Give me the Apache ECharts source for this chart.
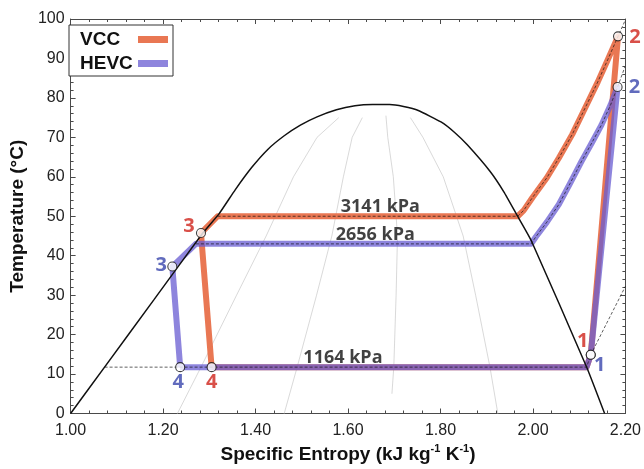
<!DOCTYPE html>
<html>
<head>
<meta charset="utf-8">
<script src="https://cdn.jsdelivr.net/npm/echarts@6/dist/echarts.min.js"></script>
<style>
  html, body { margin: 0; padding: 0; background: #fff; }
  #chart { width: 644px; height: 469px; }
</style>
</head>
<body>
<div id="chart"></div>
<script>
// Saturation dome of the refrigerant: specific entropy (kJ/kg K) vs temperature (°C)
const domeS = [1.000, 1.0735, 1.180, 1.286, 1.321, 1.356, 1.392, 1.427, 1.462, 1.497, 1.533, 1.575, 1.615, 1.653, 1.690, 1.720, 1.752, 1.801, 1.830, 1.858, 1.907, 1.937, 1.964, 1.996, 2.116, 2.155];
const domeT = [0, 11.75, 28.8, 45.75, 50.6, 56.7, 62.4, 67.0, 70.4, 73.1, 75.2, 77.0, 78.0, 78.3, 78.3, 77.8, 76.8, 73.9, 71.3, 68.1, 61.4, 56.2, 50.6, 43.9, 11.8, 0];

// Constant-quality lines inside the dome (x = 0.2, 0.4, 0.6, 0.8)
const quality20 = [[1.231, 0], [1.282, 11.75], [1.359, 30], [1.423, 45], [1.482, 60], [1.533, 70], [1.580, 75]];
const quality40 = [[1.462, 0], [1.490, 11.75], [1.532, 30], [1.565, 45], [1.590, 60], [1.609, 70], [1.631, 75]];
const quality60 = [[1.695, 5], [1.699, 11.75], [1.704, 30], [1.707, 45], [1.698, 60], [1.686, 70], [1.682, 75.5]];
const quality80 = [[1.924, 0], [1.907, 11.75], [1.876, 30], [1.849, 45], [1.806, 60], [1.762, 70], [1.735, 75]];

// Cycle state points [s, T, state number]
const vccStates = [[2.125, 14.9, '1'], [2.184, 95.6, '2'], [1.282, 45.75, '3'], [1.305, 11.75, '4']];
const hevcStates = [[2.125, 14.9, '1'], [2.183, 82.75, '2'], [1.220, 37.25, '3'], [1.237, 11.75, '4']];

// Evaporator exit (saturated vapour at 1164 kPa)
const evapEnd = [2.116, 11.75];

// Discharge / condensation paths from state 2 towards state 3
const vccHighSide = [[2.162, 89.75], [2.140, 84.0], [2.112, 77.25], [2.085, 70.75], [2.056, 64.75], [2.030, 59.75], [1.999, 54.75], [1.980, 51.5], [1.967, 50.0], [1.318, 50.0]];
const hevcHighSide = [[2.168, 78.25], [2.148, 73.1], [2.128, 68.75], [2.105, 63.9], [2.080, 58.25], [2.056, 53.0], [2.030, 48.5], [2.006, 44.75], [1.996, 43.0], [1.271, 43.0]];

// Isobars (dashed), kPa
const isobar3141 = [[1.318, 50.0], ...vccHighSide.slice(0, -1).reverse(), [2.184, 95.6], [2.200, 99.8]];
const isobar2656 = [[1.271, 43.0], ...hevcHighSide.slice(0, -1).reverse(), [2.183, 82.75], [2.199, 87.9]];
const isobar1164 = [[1.0735, 11.75], [2.116, 11.75], [2.125, 14.9], [2.160, 23.0], [2.200, 32.25]];

// Isobar labels [text, s, T]
const isobarLabels = [['3141 kPa', 1.670, 50.0], ['2656 kPa', 1.659, 43.0], ['1164 kPa', 1.589, 11.75]];

// Axis tick labels
const xTicks = ['1.00', '1.20', '1.40', '1.60', '1.80', '2.00', '2.20'];
const yTicks = [0, 10, 20, 30, 40, 50, 60, 70, 80, 90, 100];

const ORANGE = 'rgba(232,112,74,0.95)';
const BLUE = 'rgba(104,92,210,0.75)';
const RED_TXT = '#d0241c';
const BLUE_TXT = '#3a46ad';

function statePt(states, n) {
  const st = states.find(p => p[2] === n);
  return [st[0], st[1]];
}
function cyclePath(states, highSide) {
  return [statePt(states, '4'), evapEnd, statePt(states, '1'), statePt(states, '2'),
          ...highSide, statePt(states, '3'), statePt(states, '4')];
}

// label offsets for the state numbers (pixel nudges)
const vccLabelOffset = { '1': [-8, -13], '2': [17, 1], '3': [-12, -7], '4': [0, 15] };
const hevcLabelOffset = { '1': [9, 11], '2': [17, 0], '3': [-11, -1], '4': [-2, 15] };

function stateSeries(name, states, offsets, color) {
  return {
    name: name + ' states', type: 'scatter', z: 20,
    symbol: 'circle', symbolSize: 9,
    itemStyle: { color: '#fff', borderColor: '#111', borderWidth: 1.1 },
    data: states.map(p => ({
      value: [p[0], p[1]],
      label: {
        show: true, position: 'inside', offset: offsets[p[2]],
        formatter: p[2], color: color,
        fontFamily: 'Open Sans', fontWeight: 'bold', fontSize: 20
      }
    })),
    silent: true
  };
}

function thinLine(data, color, width, type, z) {
  return {
    type: 'line', data: data, showSymbol: false, symbol: 'none', z: z, silent: true,
    lineStyle: { color: color, width: width, type: type }
  };
}

const chart = echarts.init(document.getElementById('chart'), null, { renderer: 'canvas' });

const axisColor = '#4a4a4a';
const baseX = {
  type: 'value', min: 1.0, max: 2.2, interval: 0.2,
  axisLine: { show: true, onZero: false, lineStyle: { color: axisColor, width: 1 } },
  axisTick: { show: true, inside: true, length: 5, lineStyle: { color: axisColor } },
  minorTick: { show: true, splitNumber: 5, length: 3, lineStyle: { color: axisColor } },
  splitLine: { show: false }
};
const baseY = {
  type: 'value', min: 0, max: 100, interval: 10,
  axisLine: { show: true, onZero: false, lineStyle: { color: axisColor, width: 1 } },
  axisTick: { show: true, inside: true, length: 5, lineStyle: { color: axisColor } },
  minorTick: { show: true, splitNumber: 5, length: 3, lineStyle: { color: axisColor } },
  splitLine: { show: false }
};

const option = {
  animation: false,
  backgroundColor: '#fff',
  grid: { left: 62, right: 16, top: 19, bottom: 50 },
  legend: {
    show: true, orient: 'vertical', left: 69, top: 25,
    align: 'right', icon: 'rect', itemWidth: 30, itemHeight: 7, itemGap: 5,
    padding: [5, 5, 3, 11],
    borderColor: '#333', borderWidth: 1, backgroundColor: '#fff',
    data: ['VCC', 'HEVC'],
    formatter: name => '{t|' + name + '}',
    textStyle: {
      rich: {
        t: { fontFamily: 'Liberation Sans', fontWeight: 'bold', fontSize: 19, color: '#111', width: 53, align: 'left', lineHeight: 20 }
      }
    },
    selectedMode: false
  },
  xAxis: [
    Object.assign({}, baseX, {
      position: 'bottom',
      name: '{b|Specific Entropy (kJ kg}{s|-1}{b| K}{s|-1}{b|)}',
      nameLocation: 'middle', nameGap: 30,
      nameTextStyle: {
        rich: {
          b: { fontFamily: 'Liberation Sans', fontWeight: 'bold', fontSize: 19, color: '#111', lineHeight: 22 },
          s: { fontFamily: 'Liberation Sans', fontWeight: 'bold', fontSize: 11, color: '#111', lineHeight: 22, verticalAlign: 'top', padding: [0, 0, 8, 0] }
        }
      },
      axisLabel: {
        margin: 9, fontFamily: 'Liberation Sans', fontSize: 16, color: '#222',
        formatter: v => xTicks[Math.round((v - 1.0) / 0.2)]
      }
    }),
    Object.assign({}, baseX, { position: 'top', axisLabel: { show: false } })
  ],
  yAxis: [
    Object.assign({}, baseY, {
      position: 'left',
      name: 'Temperature (°C)', nameLocation: 'middle', nameGap: 33,
      nameTextStyle: { fontFamily: 'Liberation Sans', fontWeight: 'bold', fontSize: 19, color: '#111' },
      axisLabel: {
        margin: 6, fontFamily: 'Liberation Sans', fontSize: 16, color: '#222',
        formatter: v => String(yTicks[Math.round(v / 10)])
      }
    }),
    Object.assign({}, baseY, { position: 'right', axisLabel: { show: false } })
  ],
  series: [
    thinLine(quality20, '#cfcfcf', 0.8, 'solid', 1),
    thinLine(quality40, '#cfcfcf', 0.8, 'solid', 1),
    thinLine(quality60, '#cfcfcf', 0.8, 'solid', 1),
    thinLine(quality80, '#cfcfcf', 0.8, 'solid', 1),
    {
      name: 'VCC', type: 'line', z: 3, silent: true,
      data: cyclePath(vccStates, vccHighSide),
      showSymbol: false, symbol: 'none', color: ORANGE,
      lineStyle: { color: ORANGE, width: 6, join: 'round' }
    },
    {
      name: 'HEVC', type: 'line', z: 4, silent: true,
      data: cyclePath(hevcStates, hevcHighSide),
      showSymbol: false, symbol: 'none', color: BLUE,
      lineStyle: { color: BLUE, width: 6, join: 'round' }
    },
    Object.assign(thinLine(domeS.map((s, i) => [s, domeT[i]]), '#111', 1.5, 'solid', 8), { smooth: 0.15 }),
    thinLine(isobar3141, 'rgba(20,20,20,0.85)', 0.8, [3, 2], 9),
    thinLine(isobar2656, 'rgba(20,20,20,0.85)', 0.8, [3, 2], 9),
    thinLine(isobar1164, 'rgba(20,20,20,0.85)', 0.8, [3, 2], 9),
    {
      type: 'scatter', z: 10, silent: true, symbolSize: 0,
      data: isobarLabels.map(l => ({ value: [l[1], l[2]], name: l[0] })),
      label: {
        show: true, position: 'top', distance: 0, formatter: p => p.name,
        fontFamily: 'Open Sans', fontWeight: 'bold', fontSize: 18, color: '#111'
      }
    },
    stateSeries('VCC', vccStates, vccLabelOffset, RED_TXT),
    stateSeries('HEVC', hevcStates, hevcLabelOffset, BLUE_TXT)
  ]
};
chart.setOption(option);
</script>
</body>
</html>
